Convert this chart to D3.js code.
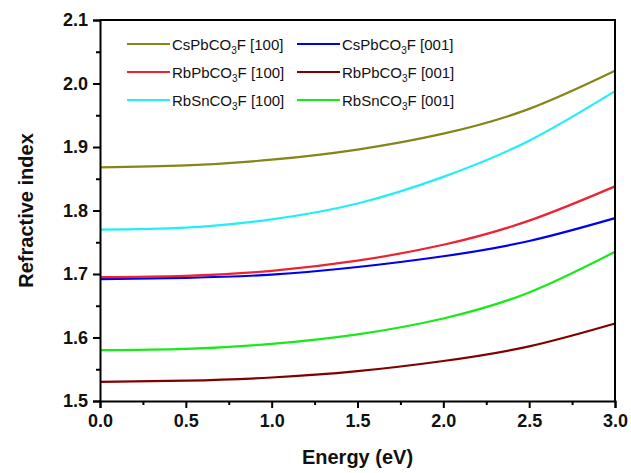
<!DOCTYPE html>
<html>
<head>
    <style>
        body { margin: 0; background: #fff; font-family: Arial, "Liberation Sans", sans-serif; }
        svg text { font-family: Arial, "Liberation Sans", sans-serif; }
    </style>
    <script src="https://cdn.jsdelivr.net/npm/d3@7"></script>
</head>
<body>
    <div id="chart"></div>
    <script>
        // Data
        const energy = [0.0, 0.5, 1.0, 1.5, 2.0, 2.5, 3.0];
        const csPb100 = [1.868, 1.871, 1.880, 1.896, 1.921, 1.960, 2.020];
        const csPb001 = [1.692, 1.694, 1.699, 1.711, 1.728, 1.752, 1.788];
        const rbPb100 = [1.695, 1.697, 1.705, 1.721, 1.746, 1.784, 1.838];
        const rbPb001 = [1.530, 1.532, 1.537, 1.547, 1.563, 1.586, 1.622];
        const rbSn100 = [1.770, 1.773, 1.786, 1.811, 1.853, 1.910, 1.988];
        const rbSn001 = [1.580, 1.582, 1.590, 1.605, 1.630, 1.671, 1.735];

        const xTicks = [0.0, 0.5, 1.0, 1.5, 2.0, 2.5, 3.0];
        const yTicks = [1.5, 1.6, 1.7, 1.8, 1.9, 2.0, 2.1];

        // legend order: two columns, three rows
        const series = [
            { name: "CsPbCO", dir: "[100]", vals: csPb100, color: "#85851a" },
            { name: "CsPbCO", dir: "[001]", vals: csPb001, color: "#0000f0" },
            { name: "RbPbCO", dir: "[100]", vals: rbPb100, color: "#ec2432" },
            { name: "RbPbCO", dir: "[001]", vals: rbPb001, color: "#800000" },
            { name: "RbSnCO", dir: "[100]", vals: rbSn100, color: "#22eef5" },
            { name: "RbSnCO", dir: "[001]", vals: rbSn001, color: "#18ea18" }
        ];

        const width = 631, height = 473;
        const margin = { top: 20, right: 15, bottom: 72, left: 100 };

        const svg = d3.select("#chart").append("svg")
            .attr("width", width)
            .attr("height", height);

        const x = d3.scaleLinear().domain([0, 3]).range([margin.left, width - margin.right - 1]);
        const y = d3.scaleLinear().domain([1.5, 2.1]).range([height - margin.bottom, margin.top]);

        // curves
        const line = d3.line()
            .x(d => x(d[0]))
            .y(d => y(d[1]))
            .curve(d3.curveNatural);

        svg.append("g").selectAll("path")
            .data(series)
            .join("path")
            .attr("fill", "none")
            .attr("stroke", d => d.color)
            .attr("stroke-width", 2.2)
            .attr("d", d => line(energy.map((e, i) => [e, d.vals[i]])));

        // minor ticks
        const xMinor = d3.range(0.25, 3, 0.5);
        const yMinor = d3.range(1.55, 2.1, 0.1);

        svg.append("g")
            .attr("transform", `translate(0,${y(1.5)})`)
            .call(d3.axisBottom(x).tickValues(xTicks).tickFormat(d3.format(".1f")).tickSize(7).tickPadding(6));
        svg.append("g")
            .attr("transform", `translate(0,${y(1.5)})`)
            .call(d3.axisBottom(x).tickValues(xMinor).tickSize(4).tickFormat(""))
            .call(g => g.select(".domain").remove());

        svg.append("g")
            .attr("transform", `translate(${x(0)},0)`)
            .call(d3.axisLeft(y).tickValues(yTicks).tickFormat(d3.format(".1f")).tickSize(7).tickPadding(5));
        svg.append("g")
            .attr("transform", `translate(${x(0)},0)`)
            .call(d3.axisLeft(y).tickValues(yMinor).tickSize(4).tickFormat(""))
            .call(g => g.select(".domain").remove());

        svg.selectAll(".tick line").attr("stroke", "#000").attr("stroke-width", 2);
        svg.selectAll(".domain").attr("stroke", "#000").attr("stroke-width", 2);
        svg.selectAll(".tick text")
            .attr("fill", "#111")
            .style("font-size", "18px")
            .style("font-weight", "bold");

        // top and right frame lines
        svg.append("path")
            .attr("fill", "none")
            .attr("stroke", "#000")
            .attr("stroke-width", 2)
            .attr("d", `M${x(0)},${y(2.1)}H${x(3)}V${y(1.5)}`);

        // axis titles
        svg.append("text")
            .attr("x", (x(0) + x(3)) / 2)
            .attr("y", 464)
            .attr("text-anchor", "middle")
            .style("font-size", "20px")
            .style("font-weight", "bold")
            .attr("fill", "#111")
            .text("Energy (eV)");

        svg.append("text")
            .attr("transform", `translate(33,${(y(1.5) + y(2.1)) / 2}) rotate(-90)`)
            .attr("text-anchor", "middle")
            .style("font-size", "20px")
            .style("font-weight", "bold")
            .attr("fill", "#111")
            .text("Refractive index");

        // legend
        const legend = svg.append("g");
        const item = legend.selectAll("g")
            .data(series)
            .join("g")
            .attr("transform", (d, i) => `translate(${i % 2 === 0 ? 127 : 297},${44 + Math.floor(i / 2) * 28})`);

        item.append("line")
            .attr("x1", 0).attr("x2", 43)
            .attr("stroke", d => d.color)
            .attr("stroke-width", 2.2);

        const label = item.append("text")
            .attr("x", 45)
            .attr("y", 6)
            .style("font-size", "15px")
            .attr("fill", "#111");
        label.append("tspan").text(d => d.name);
        label.append("tspan").attr("dy", 4).style("font-size", "10px").text("3");
        label.append("tspan").attr("dy", -4).text(d => "F " + d.dir);
    </script>
</body>
</html>
